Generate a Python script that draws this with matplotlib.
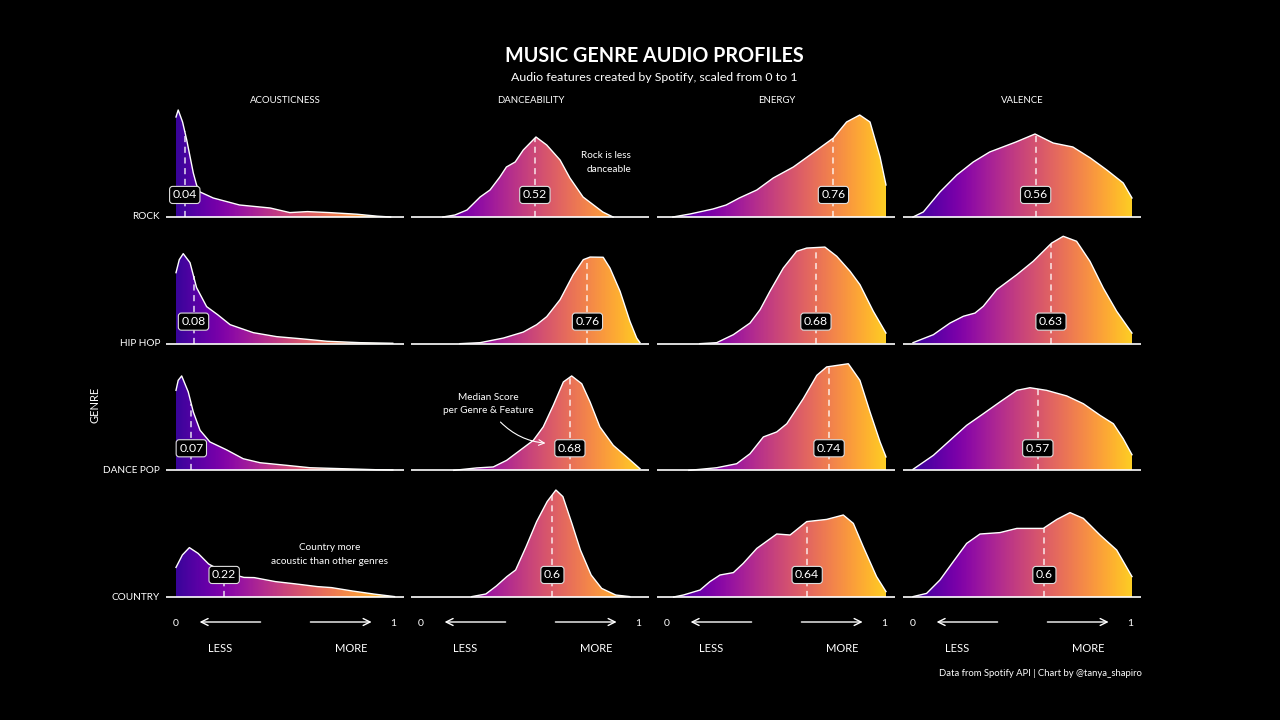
import numpy as np
import matplotlib
matplotlib.use('Agg')
import matplotlib.pyplot as plt
from matplotlib.patches import Polygon

plt.rcParams['font.family'] = ['Lato', 'DejaVu Sans']

# ---- data (x = feature score, d = kernel density) ----
genres = ['ROCK', 'HIP HOP', 'DANCE POP', 'COUNTRY']
features = ['ACOUSTICNESS', 'DANCEABILITY', 'ENERGY', 'VALENCE']

rock_acoustic_x = [0, 0.01, 0.03, 0.049, 0.079, 0.094, 0.11, 0.17, 0.29, 0.43, 0.52, 0.60, 0.70, 0.825, 0.92, 0.98]
rock_acoustic_d = [5.0, 5.35, 4.75, 3.85, 2.2, 1.6, 1.25, 0.95, 0.6, 0.45, 0.22, 0.27, 0.22, 0.14, 0.04, 0.0]
rock_dance_x = [0.10, 0.155, 0.21, 0.27, 0.315, 0.36, 0.39, 0.43, 0.467, 0.525, 0.574, 0.635, 0.68, 0.74, 0.80, 0.83, 0.877]
rock_dance_d = [0, 0.1, 0.35, 1.0, 1.35, 2.0, 2.5, 2.75, 3.35, 4.0, 3.6, 2.85, 1.95, 1.0, 0.5, 0.25, 0]
rock_energy_x = [0.027, 0.105, 0.21, 0.27, 0.33, 0.41, 0.485, 0.577, 0.653, 0.76, 0.82, 0.88, 0.927, 0.973, 1.0]
rock_energy_d = [0, 0.15, 0.4, 0.6, 0.95, 1.35, 1.95, 2.5, 3.1, 3.95, 4.75, 5.1, 4.75, 3.0, 1.6]
rock_valence_x = [0, 0.047, 0.123, 0.2, 0.275, 0.35, 0.41, 0.47, 0.557, 0.64, 0.73, 0.81, 0.885, 0.96, 1.0]
rock_valence_d = [0, 0.25, 1.25, 2.1, 2.75, 3.25, 3.5, 3.75, 4.15, 3.7, 3.5, 2.95, 2.35, 1.7, 0.95]

hiphop_acoustic_x = [0, 0.015, 0.033, 0.064, 0.094, 0.14, 0.19, 0.247, 0.353, 0.46, 0.566, 0.69, 0.84, 0.99]
hiphop_acoustic_d = [3.55, 4.2, 4.5, 4.05, 2.8, 1.85, 1.45, 0.95, 0.55, 0.35, 0.25, 0.12, 0.05, 0.02]
hiphop_dance_x = [0.178, 0.27, 0.376, 0.467, 0.528, 0.574, 0.635, 0.695, 0.741, 0.772, 0.832, 0.863, 0.909, 0.954, 0.985, 1.0]
hiphop_dance_d = [0, 0.05, 0.28, 0.58, 0.95, 1.35, 2.2, 3.45, 4.2, 4.33, 4.32, 3.78, 2.62, 1.12, 0.28, 0.05]
hiphop_energy_x = [0.15, 0.227, 0.303, 0.379, 0.425, 0.47, 0.531, 0.592, 0.638, 0.721, 0.775, 0.836, 0.881, 0.942, 1.0]
hiphop_energy_d = [0, 0.05, 0.45, 1.03, 1.7, 2.62, 3.78, 4.62, 4.78, 4.83, 4.37, 3.62, 2.95, 1.62, 0.53]
hiphop_valence_x = [0, 0.093, 0.169, 0.23, 0.283, 0.321, 0.382, 0.474, 0.549, 0.633, 0.686, 0.747, 0.808, 0.869, 0.93, 1.0]
hiphop_valence_d = [0.05, 0.45, 1.03, 1.37, 1.53, 1.87, 2.7, 3.45, 4.12, 5.03, 5.37, 5.12, 4.12, 2.78, 1.62, 0.53]

dancepop_acoustic_x = [0, 0.01, 0.026, 0.056, 0.079, 0.11, 0.155, 0.23, 0.307, 0.384, 0.505, 0.612, 0.764, 0.916, 0.99]
dancepop_acoustic_d = [4.0, 4.5, 4.72, 3.92, 2.92, 2.0, 1.42, 1.03, 0.58, 0.38, 0.25, 0.13, 0.08, 0.03, 0.02]
dancepop_dance_x = [0.15, 0.254, 0.33, 0.391, 0.452, 0.513, 0.558, 0.604, 0.65, 0.688, 0.734, 0.772, 0.817, 0.878, 0.939, 1.0]
dancepop_dance_d = [0, 0.12, 0.17, 0.5, 1.0, 1.5, 2.17, 3.25, 4.42, 4.72, 4.33, 3.42, 2.17, 1.25, 0.67, 0.08]
dancepop_energy_x = [0.1, 0.151, 0.227, 0.318, 0.379, 0.44, 0.501, 0.547, 0.622, 0.684, 0.729, 0.828, 0.881, 0.927, 0.973, 1.0]
dancepop_energy_d = [0, 0.05, 0.13, 0.33, 0.83, 1.67, 1.92, 2.33, 3.58, 4.75, 5.17, 5.33, 4.5, 2.92, 1.42, 0.67]
dancepop_valence_x = [0, 0.093, 0.169, 0.245, 0.321, 0.397, 0.474, 0.534, 0.61, 0.702, 0.778, 0.854, 0.915, 0.96, 1.0]
dancepop_valence_d = [0.05, 0.75, 1.5, 2.25, 2.83, 3.42, 4.0, 4.13, 4.0, 3.72, 3.33, 2.75, 2.33, 1.58, 0.78]

country_acoustic_x = [0, 0.029, 0.061, 0.101, 0.149, 0.214, 0.31, 0.357, 0.454, 0.55, 0.646, 0.71, 0.806, 0.902, 0.998]
country_acoustic_d = [1.48, 2.1, 2.47, 2.18, 1.65, 1.27, 0.98, 0.97, 0.77, 0.65, 0.52, 0.47, 0.3, 0.15, 0.02]
country_dance_x = [0.232, 0.296, 0.344, 0.392, 0.432, 0.48, 0.528, 0.576, 0.616, 0.648, 0.689, 0.728, 0.777, 0.825, 0.889, 0.953]
country_dance_d = [0.02, 0.15, 0.55, 1.02, 1.35, 2.52, 3.77, 4.77, 5.35, 5.02, 3.68, 2.35, 1.1, 0.43, 0.1, 0.02]
country_energy_x = [0.03, 0.075, 0.151, 0.196, 0.242, 0.303, 0.348, 0.41, 0.501, 0.562, 0.638, 0.729, 0.805, 0.851, 0.896, 0.957, 1.0]
country_energy_d = [0, 0.1, 0.35, 0.77, 1.1, 1.22, 1.68, 2.43, 3.15, 3.1, 3.77, 3.88, 4.1, 3.68, 2.52, 1.02, 0.27]
country_valence_x = [0, 0.062, 0.123, 0.184, 0.245, 0.306, 0.397, 0.474, 0.595, 0.657, 0.717, 0.778, 0.854, 0.93, 1.0]
country_valence_d = [0.02, 0.18, 0.85, 1.77, 2.68, 3.15, 3.22, 3.43, 3.43, 3.88, 4.22, 3.93, 3.1, 2.35, 1.02]

# median score per genre (rows) and feature (columns)
rock_medians = [0.04, 0.52, 0.76, 0.56]
hiphop_medians = [0.08, 0.76, 0.68, 0.63]
dancepop_medians = [0.07, 0.68, 0.74, 0.57]
country_medians = [0.22, 0.6, 0.64, 0.6]

curves = {
    'ROCK': [(rock_acoustic_x, rock_acoustic_d), (rock_dance_x, rock_dance_d),
             (rock_energy_x, rock_energy_d), (rock_valence_x, rock_valence_d)],
    'HIP HOP': [(hiphop_acoustic_x, hiphop_acoustic_d), (hiphop_dance_x, hiphop_dance_d),
                (hiphop_energy_x, hiphop_energy_d), (hiphop_valence_x, hiphop_valence_d)],
    'DANCE POP': [(dancepop_acoustic_x, dancepop_acoustic_d), (dancepop_dance_x, dancepop_dance_d),
                  (dancepop_energy_x, dancepop_energy_d), (dancepop_valence_x, dancepop_valence_d)],
    'COUNTRY': [(country_acoustic_x, country_acoustic_d), (country_dance_x, country_dance_d),
                (country_energy_x, country_energy_d), (country_valence_x, country_valence_d)],
}
medians = {'ROCK': rock_medians, 'HIP HOP': hiphop_medians,
           'DANCE POP': dancepop_medians, 'COUNTRY': country_medians}

# ---- layout ----
W, H = 1280, 720
row_px = 126.67          # distance between ridge baselines
scale = 20 / row_px      # density -> row units
rows = {'ROCK': 3, 'HIP HOP': 2, 'DANCE POP': 1, 'COUNTRY': 0}
col_left = [166, 411, 657, 903]

cmap = plt.get_cmap('plasma')
grad = cmap(np.linspace(0.08, 0.9, 256))[np.newaxis, :, :]

fig = plt.figure(figsize=(12.8, 7.2), dpi=100, facecolor='black')

axes = []
for j, feat in enumerate(features):
    ax = fig.add_axes([col_left[j] / W, 1 - 600 / H, 238 / W, 505 / H])
    ax.set_facecolor('black')
    axes.append(ax)
    for g in genres:
        r = rows[g]
        xs = np.array(curves[g][j][0])
        ys = r + np.array(curves[g][j][1]) * scale
        verts = [(xs[0], r)] + list(zip(xs, ys)) + [(xs[-1], r)]
        poly = Polygon(verts, closed=True, facecolor='none', edgecolor='none')
        ax.add_patch(poly)
        im = ax.imshow(grad, extent=[0, 1, r, ys.max() + 0.01], aspect='auto',
                       origin='lower', zorder=1, interpolation='bilinear')
        im.set_clip_path(poly)
        ax.plot(xs, ys, color='white', lw=1.0, zorder=3, solid_joinstyle='round')
        ax.axhline(r, color='white', lw=1.2, zorder=2)

        m = medians[g][j]
        top = r + np.interp(m, xs, np.array(curves[g][j][1])) * scale
        ax.plot([m, m], [r, top], color='white', lw=1.1, ls=(0, (4, 3)),
                alpha=0.85, zorder=4)
        ax.text(m, r + 0.174, f'{m:g}', color='white', fontsize=8.8,
                ha='center', va='center', zorder=5,
                bbox=dict(boxstyle='round,pad=0.25', fc='black', ec='#dddddd', lw=0.8))

    ax.set_xlim(-10 / 219, 228 / 219)
    ax.set_ylim(-3 / row_px, 502 / row_px)
    ax.axis('off')

    # column header
    ax.text(0.5, 3.916, feat, color='white', fontsize=6.9, ha='center', va='center')
    # bottom scale
    yb = -25 / row_px
    ax.text(0, yb - 0.012, '0', color='white', fontsize=7.5, ha='center', va='center', clip_on=False)
    ax.text(0.992, yb - 0.012, '1', color='white', fontsize=7.5, ha='center', va='center', clip_on=False)
    ax.annotate('', xy=(0.095, yb), xytext=(0.399, yb), annotation_clip=False,
                arrowprops=dict(arrowstyle='->,head_length=0.5,head_width=0.25', color='white', lw=1.0))
    ax.annotate('', xy=(0.906, yb), xytext=(0.601, yb), annotation_clip=False,
                arrowprops=dict(arrowstyle='->,head_length=0.5,head_width=0.25', color='white', lw=1.0))
    yl = -51 / row_px
    ax.text(0.2, yl, 'LESS', color='white', fontsize=8, ha='center', va='center', clip_on=False)
    ax.text(0.8, yl, 'MORE', color='white', fontsize=8, ha='center', va='center', clip_on=False)

# row labels
for g in genres:
    axes[0].text(-16 / 219, rows[g], g, color='white', fontsize=7.2,
                 ha='right', va='center', clip_on=False)

# annotations
axes[1].text(0.959, 3.43, 'Rock is less\ndanceable', color='white', fontsize=7.2,
             ha='right', va='center', linespacing=1.7)
axes[1].text(0.307, 1.524, 'Median Score\nper Genre & Feature', color='white', fontsize=7.2,
             ha='center', va='center', linespacing=1.7)
axes[1].annotate('', xy=(0.581, 1.213), xytext=(0.354, 1.397),
                 arrowprops=dict(arrowstyle='->', color='white', lw=0.8,
                                 connectionstyle='arc3,rad=0.2'))
axes[0].text(0.702, 0.334, 'Country more\nacoustic than other genres', color='white',
             fontsize=7.2, ha='center', va='center', linespacing=1.7)

fig.text(95 / W, 1 - 405 / H, 'GENRE', color='white', fontsize=8,
         rotation=90, ha='center', va='center')
fig.text(654 / W, 1 - 56 / H, 'MUSIC GENRE AUDIO PROFILES', color='white',
         fontsize=14.2, fontweight='bold', ha='center', va='center')
fig.text(654 / W, 1 - 77.5 / H, 'Audio features created by Spotify, scaled from 0 to 1',
         color='white', fontsize=8.9, ha='center', va='center')
fig.text(1142 / W, 1 - 673 / H, 'Data from Spotify API | Chart by @tanya_shapiro',
         color='white', fontsize=6.8, ha='right', va='center')

fig.savefig('out.png', dpi=100, facecolor='black')
